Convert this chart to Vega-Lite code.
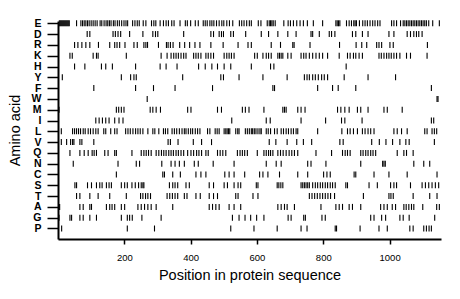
{"$schema":"https://vega.github.io/schema/vega-lite/v6.json","autosize":{"type":"none"},"width":383,"height":218,"padding":{"left":58,"top":21,"right":19,"bottom":60},"background":"white","config":{"view":{"stroke":null},"font":"Liberation Sans"},"data":{"values":[
{"aa":"E","pos":4},{"aa":"E","pos":7},{"aa":"E","pos":10},{"aa":"E","pos":13},{"aa":"E","pos":16},{"aa":"E","pos":19},{"aa":"E","pos":22},{"aa":"E","pos":25},{"aa":"E","pos":28},{"aa":"E","pos":31},{"aa":"E","pos":34},{"aa":"E","pos":56},{"aa":"E","pos":69},{"aa":"E","pos":74},{"aa":"E","pos":79},{"aa":"E","pos":84},{"aa":"E","pos":89},{"aa":"E","pos":94},{"aa":"E","pos":100},{"aa":"E","pos":106},{"aa":"E","pos":112},{"aa":"E","pos":118},{"aa":"E","pos":127},{"aa":"E","pos":132},{"aa":"E","pos":139},{"aa":"E","pos":145},{"aa":"E","pos":150},{"aa":"E","pos":155},{"aa":"E","pos":160},{"aa":"E","pos":167},{"aa":"E","pos":172},{"aa":"E","pos":179},{"aa":"E","pos":185},{"aa":"E","pos":192},{"aa":"E","pos":199},{"aa":"E","pos":205},{"aa":"E","pos":210},{"aa":"E","pos":225},{"aa":"E","pos":232},{"aa":"E","pos":239},{"aa":"E","pos":245},{"aa":"E","pos":257},{"aa":"E","pos":265},{"aa":"E","pos":282},{"aa":"E","pos":289},{"aa":"E","pos":295},{"aa":"E","pos":308},{"aa":"E","pos":318},{"aa":"E","pos":326},{"aa":"E","pos":333},{"aa":"E","pos":343},{"aa":"E","pos":350},{"aa":"E","pos":368},{"aa":"E","pos":384},{"aa":"E","pos":390},{"aa":"E","pos":400},{"aa":"E","pos":414},{"aa":"E","pos":423},{"aa":"E","pos":438},{"aa":"E","pos":444},{"aa":"E","pos":450},{"aa":"E","pos":458},{"aa":"E","pos":464},{"aa":"E","pos":470},{"aa":"E","pos":478},{"aa":"E","pos":486},{"aa":"E","pos":494},{"aa":"E","pos":500},{"aa":"E","pos":509},{"aa":"E","pos":517},{"aa":"E","pos":527},{"aa":"E","pos":547},{"aa":"E","pos":554},{"aa":"E","pos":561},{"aa":"E","pos":569},{"aa":"E","pos":577},{"aa":"E","pos":583},{"aa":"E","pos":604},{"aa":"E","pos":612},{"aa":"E","pos":631},{"aa":"E","pos":637},{"aa":"E","pos":641},{"aa":"E","pos":645},{"aa":"E","pos":649},{"aa":"E","pos":655},{"aa":"E","pos":681},{"aa":"E","pos":694},{"aa":"E","pos":701},{"aa":"E","pos":710},{"aa":"E","pos":720},{"aa":"E","pos":730},{"aa":"E","pos":740},{"aa":"E","pos":752},{"aa":"E","pos":770},{"aa":"E","pos":798},{"aa":"E","pos":838},{"aa":"E","pos":842},{"aa":"E","pos":846},{"aa":"E","pos":850},{"aa":"E","pos":870},{"aa":"E","pos":878},{"aa":"E","pos":885},{"aa":"E","pos":892},{"aa":"E","pos":896},{"aa":"E","pos":900},{"aa":"E","pos":909},{"aa":"E","pos":919},{"aa":"E","pos":926},{"aa":"E","pos":933},{"aa":"E","pos":941},{"aa":"E","pos":949},{"aa":"E","pos":956},{"aa":"E","pos":964},{"aa":"E","pos":971},{"aa":"E","pos":1006},{"aa":"E","pos":1013},{"aa":"E","pos":1021},{"aa":"E","pos":1033},{"aa":"E","pos":1041},{"aa":"E","pos":1046},{"aa":"E","pos":1051},{"aa":"E","pos":1056},{"aa":"E","pos":1061},{"aa":"E","pos":1066},{"aa":"E","pos":1071},{"aa":"E","pos":1076},{"aa":"E","pos":1081},{"aa":"E","pos":1086},{"aa":"E","pos":1091},{"aa":"E","pos":1096},{"aa":"E","pos":1101},{"aa":"E","pos":1106},{"aa":"E","pos":1111},{"aa":"E","pos":1118},{"aa":"E","pos":1130},{"aa":"E","pos":1150},
{"aa":"D","pos":88},{"aa":"D","pos":96},{"aa":"D","pos":166},{"aa":"D","pos":173},{"aa":"D","pos":181},{"aa":"D","pos":189},{"aa":"D","pos":216},{"aa":"D","pos":256},{"aa":"D","pos":286},{"aa":"D","pos":294},{"aa":"D","pos":301},{"aa":"D","pos":379},{"aa":"D","pos":461},{"aa":"D","pos":469},{"aa":"D","pos":486},{"aa":"D","pos":493},{"aa":"D","pos":499},{"aa":"D","pos":521},{"aa":"D","pos":529},{"aa":"D","pos":566},{"aa":"D","pos":613},{"aa":"D","pos":635},{"aa":"D","pos":663},{"aa":"D","pos":693},{"aa":"D","pos":718},{"aa":"D","pos":763},{"aa":"D","pos":768},{"aa":"D","pos":788},{"aa":"D","pos":818},{"aa":"D","pos":825},{"aa":"D","pos":835},{"aa":"D","pos":888},{"aa":"D","pos":898},{"aa":"D","pos":918},{"aa":"D","pos":935},{"aa":"D","pos":998},{"aa":"D","pos":1013},{"aa":"D","pos":1053},{"aa":"D","pos":1063},{"aa":"D","pos":1073},{"aa":"D","pos":1081},{"aa":"D","pos":1088},{"aa":"D","pos":1098},
{"aa":"R","pos":50},{"aa":"R","pos":60},{"aa":"R","pos":72},{"aa":"R","pos":84},{"aa":"R","pos":96},{"aa":"R","pos":122},{"aa":"R","pos":156},{"aa":"R","pos":171},{"aa":"R","pos":178},{"aa":"R","pos":186},{"aa":"R","pos":202},{"aa":"R","pos":229},{"aa":"R","pos":239},{"aa":"R","pos":259},{"aa":"R","pos":265},{"aa":"R","pos":270},{"aa":"R","pos":303},{"aa":"R","pos":327},{"aa":"R","pos":332},{"aa":"R","pos":339},{"aa":"R","pos":347},{"aa":"R","pos":367},{"aa":"R","pos":382},{"aa":"R","pos":397},{"aa":"R","pos":413},{"aa":"R","pos":428},{"aa":"R","pos":461},{"aa":"R","pos":498},{"aa":"R","pos":543},{"aa":"R","pos":573},{"aa":"R","pos":583},{"aa":"R","pos":643},{"aa":"R","pos":671},{"aa":"R","pos":708},{"aa":"R","pos":712},{"aa":"R","pos":760},{"aa":"R","pos":849},{"aa":"R","pos":899},{"aa":"R","pos":916},{"aa":"R","pos":931},{"aa":"R","pos":961},{"aa":"R","pos":968},{"aa":"R","pos":976},{"aa":"R","pos":1001},{"aa":"R","pos":1011},{"aa":"R","pos":1114},
{"aa":"K","pos":36},{"aa":"K","pos":43},{"aa":"K","pos":106},{"aa":"K","pos":116},{"aa":"K","pos":121},{"aa":"K","pos":206},{"aa":"K","pos":311},{"aa":"K","pos":329},{"aa":"K","pos":341},{"aa":"K","pos":349},{"aa":"K","pos":356},{"aa":"K","pos":363},{"aa":"K","pos":371},{"aa":"K","pos":379},{"aa":"K","pos":386},{"aa":"K","pos":409},{"aa":"K","pos":416},{"aa":"K","pos":423},{"aa":"K","pos":431},{"aa":"K","pos":446},{"aa":"K","pos":453},{"aa":"K","pos":461},{"aa":"K","pos":469},{"aa":"K","pos":501},{"aa":"K","pos":509},{"aa":"K","pos":516},{"aa":"K","pos":523},{"aa":"K","pos":531},{"aa":"K","pos":593},{"aa":"K","pos":601},{"aa":"K","pos":618},{"aa":"K","pos":628},{"aa":"K","pos":635},{"aa":"K","pos":643},{"aa":"K","pos":663},{"aa":"K","pos":668},{"aa":"K","pos":673},{"aa":"K","pos":678},{"aa":"K","pos":693},{"aa":"K","pos":703},{"aa":"K","pos":733},{"aa":"K","pos":741},{"aa":"K","pos":748},{"aa":"K","pos":758},{"aa":"K","pos":768},{"aa":"K","pos":778},{"aa":"K","pos":788},{"aa":"K","pos":798},{"aa":"K","pos":813},{"aa":"K","pos":848},{"aa":"K","pos":873},{"aa":"K","pos":881},{"aa":"K","pos":891},{"aa":"K","pos":898},{"aa":"K","pos":908},{"aa":"K","pos":918},{"aa":"K","pos":968},{"aa":"K","pos":975},{"aa":"K","pos":983},{"aa":"K","pos":991},{"aa":"K","pos":998},{"aa":"K","pos":1005},{"aa":"K","pos":1013},{"aa":"K","pos":1021},{"aa":"K","pos":1031},{"aa":"K","pos":1051},{"aa":"K","pos":1063},{"aa":"K","pos":1113},
{"aa":"H","pos":50},{"aa":"H","pos":81},{"aa":"H","pos":131},{"aa":"H","pos":144},{"aa":"H","pos":164},{"aa":"H","pos":234},{"aa":"H","pos":308},{"aa":"H","pos":326},{"aa":"H","pos":359},{"aa":"H","pos":424},{"aa":"H","pos":444},{"aa":"H","pos":464},{"aa":"H","pos":481},{"aa":"H","pos":501},{"aa":"H","pos":521},{"aa":"H","pos":583},{"aa":"H","pos":641},{"aa":"H","pos":651},{"aa":"H","pos":869},
{"aa":"Y","pos":13},{"aa":"Y","pos":191},{"aa":"Y","pos":219},{"aa":"Y","pos":229},{"aa":"Y","pos":236},{"aa":"Y","pos":376},{"aa":"Y","pos":491},{"aa":"Y","pos":499},{"aa":"Y","pos":546},{"aa":"Y","pos":618},{"aa":"Y","pos":691},{"aa":"Y","pos":743},{"aa":"Y","pos":751},{"aa":"Y","pos":758},{"aa":"Y","pos":768},{"aa":"Y","pos":776},{"aa":"Y","pos":785},{"aa":"Y","pos":795},{"aa":"Y","pos":803},{"aa":"Y","pos":813},{"aa":"Y","pos":863},{"aa":"Y","pos":935},{"aa":"Y","pos":1018},
{"aa":"F","pos":108},{"aa":"F","pos":234},{"aa":"F","pos":288},{"aa":"F","pos":353},{"aa":"F","pos":466},{"aa":"F","pos":648},{"aa":"F","pos":653},{"aa":"F","pos":783},{"aa":"F","pos":828},{"aa":"F","pos":845},{"aa":"F","pos":898},{"aa":"F","pos":1126},
{"aa":"W","pos":269},{"aa":"W","pos":1143},{"aa":"W","pos":1146},
{"aa":"M","pos":3},{"aa":"M","pos":176},{"aa":"M","pos":183},{"aa":"M","pos":191},{"aa":"M","pos":199},{"aa":"M","pos":278},{"aa":"M","pos":286},{"aa":"M","pos":296},{"aa":"M","pos":309},{"aa":"M","pos":391},{"aa":"M","pos":401},{"aa":"M","pos":481},{"aa":"M","pos":493},{"aa":"M","pos":556},{"aa":"M","pos":565},{"aa":"M","pos":576},{"aa":"M","pos":621},{"aa":"M","pos":678},{"aa":"M","pos":683},{"aa":"M","pos":688},{"aa":"M","pos":723},{"aa":"M","pos":733},{"aa":"M","pos":745},{"aa":"M","pos":843},{"aa":"M","pos":853},{"aa":"M","pos":865},{"aa":"M","pos":878},{"aa":"M","pos":903},{"aa":"M","pos":913},{"aa":"M","pos":935},{"aa":"M","pos":983},{"aa":"M","pos":993},{"aa":"M","pos":1038},
{"aa":"I","pos":114},{"aa":"I","pos":124},{"aa":"I","pos":134},{"aa":"I","pos":144},{"aa":"I","pos":154},{"aa":"I","pos":171},{"aa":"I","pos":184},{"aa":"I","pos":196},{"aa":"I","pos":524},{"aa":"I","pos":628},{"aa":"I","pos":640},{"aa":"I","pos":733},{"aa":"I","pos":807},{"aa":"I","pos":855},{"aa":"I","pos":865},{"aa":"I","pos":917},{"aa":"I","pos":1126},{"aa":"I","pos":1133},
{"aa":"L","pos":10},{"aa":"L","pos":44},{"aa":"L","pos":50},{"aa":"L","pos":56},{"aa":"L","pos":62},{"aa":"L","pos":68},{"aa":"L","pos":76},{"aa":"L","pos":82},{"aa":"L","pos":91},{"aa":"L","pos":98},{"aa":"L","pos":106},{"aa":"L","pos":114},{"aa":"L","pos":121},{"aa":"L","pos":138},{"aa":"L","pos":144},{"aa":"L","pos":159},{"aa":"L","pos":171},{"aa":"L","pos":178},{"aa":"L","pos":204},{"aa":"L","pos":211},{"aa":"L","pos":218},{"aa":"L","pos":226},{"aa":"L","pos":234},{"aa":"L","pos":241},{"aa":"L","pos":248},{"aa":"L","pos":256},{"aa":"L","pos":271},{"aa":"L","pos":286},{"aa":"L","pos":292},{"aa":"L","pos":304},{"aa":"L","pos":318},{"aa":"L","pos":324},{"aa":"L","pos":331},{"aa":"L","pos":344},{"aa":"L","pos":351},{"aa":"L","pos":358},{"aa":"L","pos":366},{"aa":"L","pos":374},{"aa":"L","pos":381},{"aa":"L","pos":386},{"aa":"L","pos":393},{"aa":"L","pos":400},{"aa":"L","pos":406},{"aa":"L","pos":414},{"aa":"L","pos":421},{"aa":"L","pos":428},{"aa":"L","pos":451},{"aa":"L","pos":458},{"aa":"L","pos":474},{"aa":"L","pos":480},{"aa":"L","pos":486},{"aa":"L","pos":501},{"aa":"L","pos":506},{"aa":"L","pos":510},{"aa":"L","pos":514},{"aa":"L","pos":518},{"aa":"L","pos":536},{"aa":"L","pos":542},{"aa":"L","pos":546},{"aa":"L","pos":565},{"aa":"L","pos":571},{"aa":"L","pos":577},{"aa":"L","pos":583},{"aa":"L","pos":587},{"aa":"L","pos":592},{"aa":"L","pos":597},{"aa":"L","pos":603},{"aa":"L","pos":609},{"aa":"L","pos":613},{"aa":"L","pos":628},{"aa":"L","pos":634},{"aa":"L","pos":641},{"aa":"L","pos":653},{"aa":"L","pos":661},{"aa":"L","pos":673},{"aa":"L","pos":680},{"aa":"L","pos":688},{"aa":"L","pos":695},{"aa":"L","pos":703},{"aa":"L","pos":710},{"aa":"L","pos":718},{"aa":"L","pos":723},{"aa":"L","pos":783},{"aa":"L","pos":856},{"aa":"L","pos":873},{"aa":"L","pos":881},{"aa":"L","pos":891},{"aa":"L","pos":903},{"aa":"L","pos":918},{"aa":"L","pos":926},{"aa":"L","pos":935},{"aa":"L","pos":943},{"aa":"L","pos":953},{"aa":"L","pos":1013},{"aa":"L","pos":1023},{"aa":"L","pos":1036},{"aa":"L","pos":1053},{"aa":"L","pos":1106},{"aa":"L","pos":1113},{"aa":"L","pos":1128},{"aa":"L","pos":1135},{"aa":"L","pos":1142},
{"aa":"V","pos":10},{"aa":"V","pos":26},{"aa":"V","pos":38},{"aa":"V","pos":44},{"aa":"V","pos":48},{"aa":"V","pos":66},{"aa":"V","pos":72},{"aa":"V","pos":108},{"aa":"V","pos":332},{"aa":"V","pos":339},{"aa":"V","pos":362},{"aa":"V","pos":408},{"aa":"V","pos":433},{"aa":"V","pos":463},{"aa":"V","pos":637},{"aa":"V","pos":657},{"aa":"V","pos":691},{"aa":"V","pos":720},{"aa":"V","pos":740},{"aa":"V","pos":765},{"aa":"V","pos":850},{"aa":"V","pos":860},{"aa":"V","pos":946},{"aa":"V","pos":969},{"aa":"V","pos":989},{"aa":"V","pos":1009},{"aa":"V","pos":1031},{"aa":"V","pos":1049},{"aa":"V","pos":1059},{"aa":"V","pos":1135},
{"aa":"Q","pos":36},{"aa":"Q","pos":66},{"aa":"Q","pos":79},{"aa":"Q","pos":91},{"aa":"Q","pos":103},{"aa":"Q","pos":109},{"aa":"Q","pos":116},{"aa":"Q","pos":141},{"aa":"Q","pos":151},{"aa":"Q","pos":171},{"aa":"Q","pos":176},{"aa":"Q","pos":223},{"aa":"Q","pos":251},{"aa":"Q","pos":259},{"aa":"Q","pos":266},{"aa":"Q","pos":273},{"aa":"Q","pos":281},{"aa":"Q","pos":296},{"aa":"Q","pos":304},{"aa":"Q","pos":312},{"aa":"Q","pos":319},{"aa":"Q","pos":326},{"aa":"Q","pos":334},{"aa":"Q","pos":341},{"aa":"Q","pos":348},{"aa":"Q","pos":356},{"aa":"Q","pos":363},{"aa":"Q","pos":371},{"aa":"Q","pos":379},{"aa":"Q","pos":391},{"aa":"Q","pos":401},{"aa":"Q","pos":409},{"aa":"Q","pos":418},{"aa":"Q","pos":425},{"aa":"Q","pos":433},{"aa":"Q","pos":446},{"aa":"Q","pos":453},{"aa":"Q","pos":481},{"aa":"Q","pos":489},{"aa":"Q","pos":497},{"aa":"Q","pos":506},{"aa":"Q","pos":541},{"aa":"Q","pos":549},{"aa":"Q","pos":556},{"aa":"Q","pos":563},{"aa":"Q","pos":571},{"aa":"Q","pos":601},{"aa":"Q","pos":621},{"aa":"Q","pos":628},{"aa":"Q","pos":635},{"aa":"Q","pos":641},{"aa":"Q","pos":648},{"aa":"Q","pos":663},{"aa":"Q","pos":671},{"aa":"Q","pos":679},{"aa":"Q","pos":688},{"aa":"Q","pos":697},{"aa":"Q","pos":705},{"aa":"Q","pos":713},{"aa":"Q","pos":723},{"aa":"Q","pos":778},{"aa":"Q","pos":825},{"aa":"Q","pos":858},{"aa":"Q","pos":866},{"aa":"Q","pos":873},{"aa":"Q","pos":881},{"aa":"Q","pos":913},{"aa":"Q","pos":920},{"aa":"Q","pos":928},{"aa":"Q","pos":935},{"aa":"Q","pos":943},{"aa":"Q","pos":950},{"aa":"Q","pos":958},{"aa":"Q","pos":1023},{"aa":"Q","pos":1043},{"aa":"Q","pos":1051},{"aa":"Q","pos":1071},
{"aa":"N","pos":46},{"aa":"N","pos":181},{"aa":"N","pos":236},{"aa":"N","pos":246},{"aa":"N","pos":313},{"aa":"N","pos":341},{"aa":"N","pos":353},{"aa":"N","pos":366},{"aa":"N","pos":381},{"aa":"N","pos":411},{"aa":"N","pos":423},{"aa":"N","pos":468},{"aa":"N","pos":531},{"aa":"N","pos":628},{"aa":"N","pos":658},{"aa":"N","pos":673},{"aa":"N","pos":753},{"aa":"N","pos":763},{"aa":"N","pos":808},{"aa":"N","pos":913},{"aa":"N","pos":979},{"aa":"N","pos":983},{"aa":"N","pos":987},{"aa":"N","pos":1073},{"aa":"N","pos":1103},{"aa":"N","pos":1121},
{"aa":"C","pos":176},{"aa":"C","pos":316},{"aa":"C","pos":321},{"aa":"C","pos":346},{"aa":"C","pos":369},{"aa":"C","pos":416},{"aa":"C","pos":431},{"aa":"C","pos":446},{"aa":"C","pos":503},{"aa":"C","pos":516},{"aa":"C","pos":531},{"aa":"C","pos":563},{"aa":"C","pos":608},{"aa":"C","pos":618},{"aa":"C","pos":633},{"aa":"C","pos":668},{"aa":"C","pos":723},{"aa":"C","pos":753},{"aa":"C","pos":801},{"aa":"C","pos":811},{"aa":"C","pos":821},{"aa":"C","pos":893},{"aa":"C","pos":898},{"aa":"C","pos":953},{"aa":"C","pos":998},{"aa":"C","pos":1053},{"aa":"C","pos":1143},
{"aa":"S","pos":51},{"aa":"S","pos":56},{"aa":"S","pos":89},{"aa":"S","pos":101},{"aa":"S","pos":116},{"aa":"S","pos":126},{"aa":"S","pos":133},{"aa":"S","pos":146},{"aa":"S","pos":154},{"aa":"S","pos":161},{"aa":"S","pos":191},{"aa":"S","pos":201},{"aa":"S","pos":209},{"aa":"S","pos":223},{"aa":"S","pos":233},{"aa":"S","pos":243},{"aa":"S","pos":251},{"aa":"S","pos":256},{"aa":"S","pos":259},{"aa":"S","pos":336},{"aa":"S","pos":346},{"aa":"S","pos":353},{"aa":"S","pos":361},{"aa":"S","pos":386},{"aa":"S","pos":396},{"aa":"S","pos":456},{"aa":"S","pos":469},{"aa":"S","pos":501},{"aa":"S","pos":511},{"aa":"S","pos":531},{"aa":"S","pos":543},{"aa":"S","pos":551},{"aa":"S","pos":598},{"aa":"S","pos":603},{"aa":"S","pos":661},{"aa":"S","pos":666},{"aa":"S","pos":672},{"aa":"S","pos":678},{"aa":"S","pos":733},{"aa":"S","pos":738},{"aa":"S","pos":743},{"aa":"S","pos":748},{"aa":"S","pos":753},{"aa":"S","pos":758},{"aa":"S","pos":768},{"aa":"S","pos":776},{"aa":"S","pos":783},{"aa":"S","pos":791},{"aa":"S","pos":798},{"aa":"S","pos":806},{"aa":"S","pos":813},{"aa":"S","pos":821},{"aa":"S","pos":828},{"aa":"S","pos":836},{"aa":"S","pos":868},{"aa":"S","pos":873},{"aa":"S","pos":938},{"aa":"S","pos":963},{"aa":"S","pos":1003},{"aa":"S","pos":1013},{"aa":"S","pos":1021},{"aa":"S","pos":1063},{"aa":"S","pos":1098},{"aa":"S","pos":1108},{"aa":"S","pos":1118},{"aa":"S","pos":1128},{"aa":"S","pos":1138},{"aa":"S","pos":1148},
{"aa":"T","pos":56},{"aa":"T","pos":66},{"aa":"T","pos":96},{"aa":"T","pos":121},{"aa":"T","pos":156},{"aa":"T","pos":206},{"aa":"T","pos":249},{"aa":"T","pos":256},{"aa":"T","pos":264},{"aa":"T","pos":271},{"aa":"T","pos":279},{"aa":"T","pos":329},{"aa":"T","pos":337},{"aa":"T","pos":345},{"aa":"T","pos":353},{"aa":"T","pos":361},{"aa":"T","pos":381},{"aa":"T","pos":389},{"aa":"T","pos":416},{"aa":"T","pos":429},{"aa":"T","pos":456},{"aa":"T","pos":469},{"aa":"T","pos":481},{"aa":"T","pos":536},{"aa":"T","pos":543},{"aa":"T","pos":588},{"aa":"T","pos":603},{"aa":"T","pos":758},{"aa":"T","pos":766},{"aa":"T","pos":774},{"aa":"T","pos":782},{"aa":"T","pos":790},{"aa":"T","pos":798},{"aa":"T","pos":806},{"aa":"T","pos":814},{"aa":"T","pos":822},{"aa":"T","pos":834},{"aa":"T","pos":921},{"aa":"T","pos":998},{"aa":"T","pos":1004},{"aa":"T","pos":1011},{"aa":"T","pos":1071},{"aa":"T","pos":1121},{"aa":"T","pos":1143},
{"aa":"A","pos":2},{"aa":"A","pos":5},{"aa":"A","pos":66},{"aa":"A","pos":76},{"aa":"A","pos":96},{"aa":"A","pos":101},{"aa":"A","pos":146},{"aa":"A","pos":156},{"aa":"A","pos":163},{"aa":"A","pos":171},{"aa":"A","pos":191},{"aa":"A","pos":201},{"aa":"A","pos":241},{"aa":"A","pos":251},{"aa":"A","pos":261},{"aa":"A","pos":271},{"aa":"A","pos":281},{"aa":"A","pos":296},{"aa":"A","pos":346},{"aa":"A","pos":456},{"aa":"A","pos":466},{"aa":"A","pos":476},{"aa":"A","pos":486},{"aa":"A","pos":516},{"aa":"A","pos":531},{"aa":"A","pos":551},{"aa":"A","pos":663},{"aa":"A","pos":673},{"aa":"A","pos":683},{"aa":"A","pos":691},{"aa":"A","pos":713},{"aa":"A","pos":793},{"aa":"A","pos":838},{"aa":"A","pos":848},{"aa":"A","pos":858},{"aa":"A","pos":878},{"aa":"A","pos":888},{"aa":"A","pos":913},{"aa":"A","pos":973},{"aa":"A","pos":983},{"aa":"A","pos":993},{"aa":"A","pos":1008},{"aa":"A","pos":1018},{"aa":"A","pos":1043},{"aa":"A","pos":1050},{"aa":"A","pos":1058},{"aa":"A","pos":1066},{"aa":"A","pos":1073},{"aa":"A","pos":1100},{"aa":"A","pos":1142},{"aa":"A","pos":1150},
{"aa":"G","pos":3},{"aa":"G","pos":36},{"aa":"G","pos":41},{"aa":"G","pos":66},{"aa":"G","pos":76},{"aa":"G","pos":96},{"aa":"G","pos":116},{"aa":"G","pos":191},{"aa":"G","pos":209},{"aa":"G","pos":216},{"aa":"G","pos":224},{"aa":"G","pos":253},{"aa":"G","pos":311},{"aa":"G","pos":526},{"aa":"G","pos":546},{"aa":"G","pos":564},{"aa":"G","pos":581},{"aa":"G","pos":599},{"aa":"G","pos":621},{"aa":"G","pos":694},{"aa":"G","pos":703},{"aa":"G","pos":741},{"aa":"G","pos":746},{"aa":"G","pos":796},{"aa":"G","pos":806},{"aa":"G","pos":943},{"aa":"G","pos":953},{"aa":"G","pos":976},{"aa":"G","pos":988},{"aa":"G","pos":1031},{"aa":"G","pos":1041},{"aa":"G","pos":1059},{"aa":"G","pos":1136},
{"aa":"P","pos":11},{"aa":"P","pos":209},{"aa":"P","pos":291},{"aa":"P","pos":521},{"aa":"P","pos":591},{"aa":"P","pos":661},{"aa":"P","pos":733},{"aa":"P","pos":751},{"aa":"P","pos":836},{"aa":"P","pos":840},{"aa":"P","pos":911},{"aa":"P","pos":968},{"aa":"P","pos":993},{"aa":"P","pos":1061},{"aa":"P","pos":1071},{"aa":"P","pos":1103},{"aa":"P","pos":1111},{"aa":"P","pos":1119},{"aa":"P","pos":1126}
]},
"mark":{"type":"tick","orient":"vertical","size":6,"thickness":1.1,"color":"black","opacity":1},
"encoding":{
"x":{"field":"pos","type":"quantitative","scale":{"domain":[0,1155],"nice":false,"zero":false},"axis":{"values":[200,400,600,800,1000],"format":"d","title":"Position in protein sequence","grid":false,"tickSize":5,"tickWidth":1.5,"tickColor":"black","domainColor":"black","domainWidth":2,"labelFontSize":9.5,"labelColor":"black","labelPadding":8,"titleFontSize":14.5,"titleFontWeight":"normal","titleColor":"black","titlePadding":7,"labelFlush":false}},
"y":{"field":"aa","type":"nominal","sort":["E","D","R","K","H","Y","F","W","M","I","L","V","Q","N","C","S","T","A","G","P"],"scale":{"type":"point","padding":0.593,"align":0.18},"axis":{"title":"Amino acid","grid":false,"tickSize":11,"tickWidth":1.5,"tickColor":"black","domainColor":"black","domainWidth":2,"labelFontSize":10.5,"labelFontWeight":"bold","labelColor":"black","labelPadding":6,"titleFontSize":14.5,"titleFontWeight":"normal","titleColor":"black","titlePadding":9}}
}}
